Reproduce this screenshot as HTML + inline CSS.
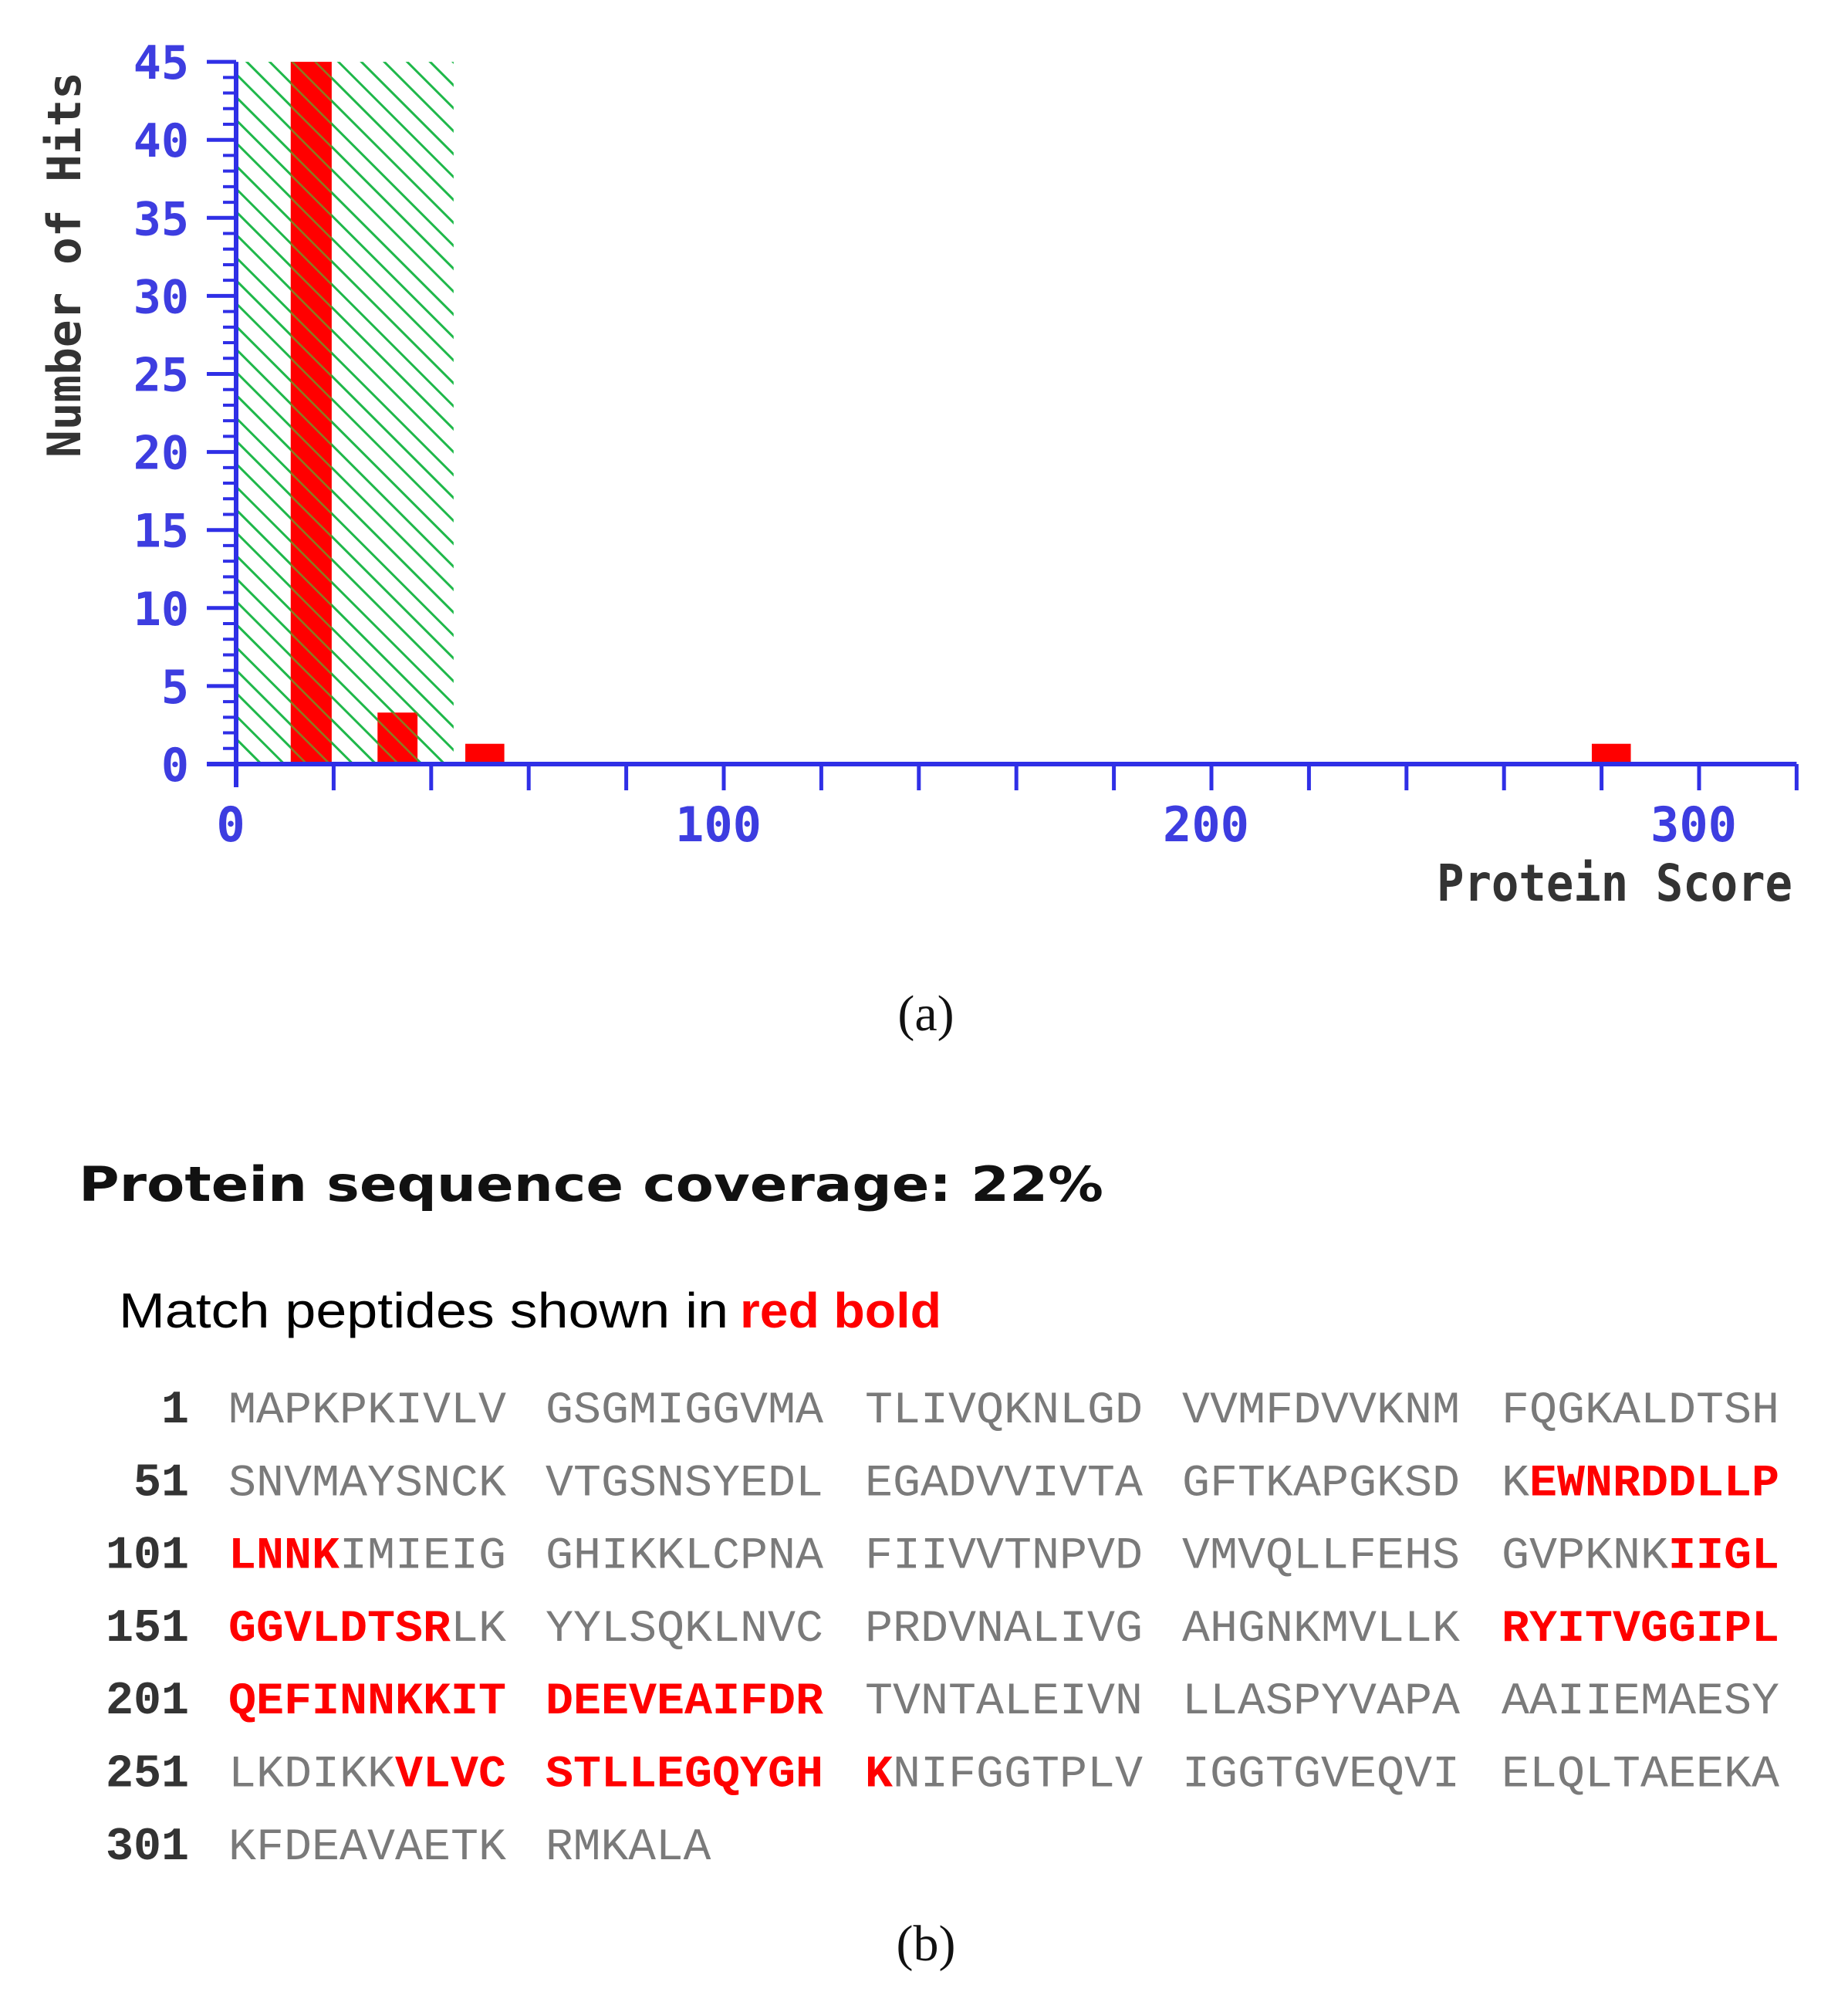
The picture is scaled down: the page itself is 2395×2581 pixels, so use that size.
<!DOCTYPE html>
<html><head><meta charset="utf-8"><style>
html,body{margin:0;padding:0;background:#fff;}
svg{display:block;}
</style></head><body>
<svg id="fig" xmlns="http://www.w3.org/2000/svg" width="2395" height="2581" viewBox="0 0 2395 2581">
<defs>
<pattern id="hatch" patternUnits="userSpaceOnUse" width="21" height="21" patternTransform="rotate(-45)">
<line x1="0" y1="0" x2="0" y2="21" stroke="#1fb84a" stroke-width="6"/>
</pattern>
<pattern id="hatch2" patternUnits="userSpaceOnUse" width="21" height="21" patternTransform="rotate(-45)">
<line x1="0" y1="0" x2="0" y2="21" stroke="#8a7a20" stroke-width="5"/>
</pattern>
</defs>
<g id="chart"></g>
<text transform="translate(104,343) rotate(-90)" text-anchor="middle" font-family="'DejaVu Sans Mono',monospace" font-weight="bold" font-size="60" fill="#333" textLength="500" lengthAdjust="spacingAndGlyphs">Number of Hits</text>
<text x="1862" y="1167" font-family="'DejaVu Sans Mono',monospace" font-weight="bold" font-size="66" fill="#333" textLength="461" lengthAdjust="spacingAndGlyphs">Protein Score</text>
<text x="1200" y="1335" text-anchor="middle" font-family="'Liberation Serif',serif" font-size="66" fill="#111">(a)</text>

<text x="102" y="1556" font-family="'DejaVu Sans',sans-serif" font-weight="bold" font-size="62" fill="#111" textLength="1328" lengthAdjust="spacingAndGlyphs">Protein sequence coverage: 22%</text>
<text x="154" y="1720" font-family="'Liberation Sans',sans-serif" font-size="64" fill="#000">
<tspan textLength="790" lengthAdjust="spacingAndGlyphs">Match peptides shown in</tspan><tspan x="959" fill="#f00" font-weight="bold" textLength="261" lengthAdjust="spacingAndGlyphs">red bold</tspan></text>
<g id="seq"></g>
<text x="1200" y="2540" text-anchor="middle" font-family="'Liberation Serif',serif" font-size="66" fill="#111">(b)</text>
</svg>
<script>
// ---- chart data ----
const yTicks = [0,5,10,15,20,25,30,35,40,45];
const xLabels = [0,100,200,300];
const binStart = [11.2, 29, 47, 278];
const binEnd = [19.6, 37.2, 55, 286];
const hits = [45, 3.3, 1.3, 1.3];
const thresholdScore = [44.6];

const NS = 'http://www.w3.org/2000/svg';
const X0 = 306, Y0 = 990, XS = 6.32, YS = 20.22;
const xs = s => X0 + s * XS;
const ys = v => Y0 - v * YS;
const chart = document.getElementById('chart');
const blue = '#2f2fe6';
function mk(tag, attrs, parent){
  const e = document.createElementNS(NS, tag);
  for (const k in attrs) e.setAttribute(k, attrs[k]);
  (parent||chart).appendChild(e);
  return e;
}
const th = mk('rect', {x: xs(0), y: ys(45), width: xs(thresholdScore[0]) - xs(0), height: ys(0) - ys(45), fill: 'url(#hatch)'});


hits.forEach((v, i) => {
  const r = mk('rect', {x: xs(binStart[i]), y: ys(v), width: xs(binEnd[i]) - xs(binStart[i]), height: ys(0) - ys(v), fill: '#ff0000'});
  
  
  if (xs(binStart[i]) < xs(thresholdScore[0])) {
    mk('rect', {x: xs(binStart[i]), y: ys(v), width: xs(binEnd[i]) - xs(binStart[i]), height: ys(0) - ys(v), fill: 'url(#hatch2)'});
  }
});
const ya = mk('line', {x1: X0, y1: ys(45), x2: X0, y2: Y0 + 30, stroke: blue, 'stroke-width': 6});


for (let v = 0; v <= 45; v++) {
  const major = v % 5 === 0;
  mk('line', {x1: major ? 268 : 289, y1: ys(v), x2: X0, y2: ys(v), stroke: blue, 'stroke-width': major ? 5 : 4});
}
yTicks.forEach(v => {
  const t = mk('text', {x: 245, y: ys(v) + 22, 'text-anchor': 'end', 'font-family': "'DejaVu Sans Mono',monospace", 'font-weight': 'bold', 'font-size': 60, fill: '#3d3de0'});
  t.textContent = v;
  
  
});
const xa = mk('line', {x1: 268, y1: Y0, x2: xs(320), y2: Y0, stroke: blue, 'stroke-width': 6});


for (let s = 20; s <= 320; s += 20) {
  mk('line', {x1: xs(s), y1: Y0, x2: xs(s), y2: Y0 + 34, stroke: blue, 'stroke-width': 5});
}
xLabels.forEach(s => {
  const t = mk('text', {x: xs(s) - 7, y: 1090, 'text-anchor': 'middle', 'font-family': "'DejaVu Sans Mono',monospace", 'font-weight': 'bold', 'font-size': 62, fill: '#3d3de0'});
  t.textContent = s;
  
  
});

// ---- sequence ----
const rowNums = ['1','51','101','151','201','251','301'];
const rows = [
 ['MAPKPKIVLV','GSGMIGGVMA','TLIVQKNLGD','VVMFDVVKNM','FQGKALDTSH'],
 ['SNVMAYSNCK','VTGSNSYEDL','EGADVVIVTA','GFTKAPGKSD','K[EWNRDDLLP]'],
 ['[LNNK]IMIEIG','GHIKKLCPNA','FIIVVTNPVD','VMVQLLFEHS','GVPKNK[IIGL]'],
 ['[GGVLDTSR]LK','YYLSQKLNVC','PRDVNALIVG','AHGNKMVLLK','[RYITVGGIPL]'],
 ['[QEFINNKKIT]','[DEEVEAIFDR]','TVNTALEIVN','LLASPYVAPA','AAIIEMAESY'],
 ['LKDIKK[VLVC]','[STLLEGQYGH]','[K]NIFGGTPLV','IGGTGVEQVI','ELQLTAEEKA'],
 ['KFDEAVAETK','RMKALA']
];
const seq = document.getElementById('seq');
const rowY0 = 1843, rowDy = 94.3, blockX = [296, 707, 1121, 1532, 1946], charW = 36.4;
rows.forEach((blocks, r) => {
  const y = rowY0 + r * rowDy;
  const n = mk('text', {x: 245, y: y, 'text-anchor': 'end', 'font-family': "'Liberation Mono',monospace", 'font-weight': 'bold', 'font-size': 60, fill: '#333'}, seq);
  n.textContent = rowNums[r];
  
  
  blocks.forEach((b, i) => {
    const plain = b.replace(/[\[\]]/g, '');
    const t = mk('text', {x: blockX[i], y: y, 'font-family': "'Liberation Mono',monospace", 'font-size': 58, fill: '#7a7a7a', textLength: (charW * plain.length - 4).toFixed(1), lengthAdjust: 'spacingAndGlyphs'}, seq);
    
    
    b.split(/(\[[^\]]*\])/).filter(p => p).forEach(p => {
      const ts = document.createElementNS(NS, 'tspan');
      if (p[0] === '[') { ts.textContent = p.slice(1, -1); ts.setAttribute('fill', '#f00'); ts.setAttribute('font-weight', 'bold'); }
      else ts.textContent = p;
      t.appendChild(ts);
    });
  });
});
</script>
</body></html>
